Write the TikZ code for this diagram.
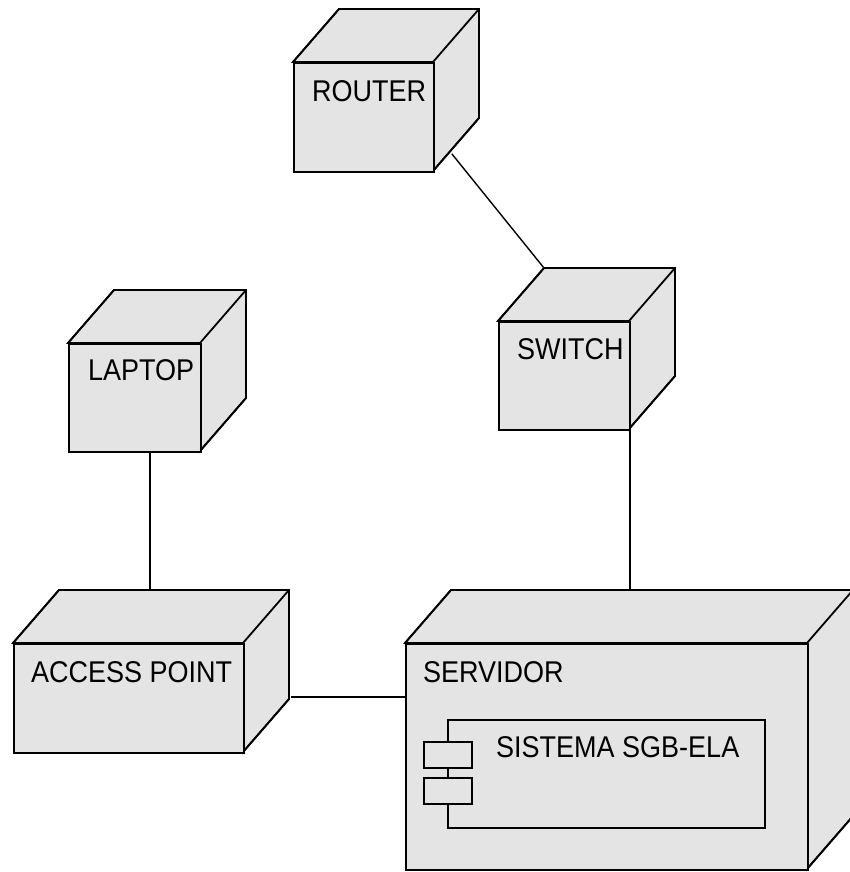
\documentclass[tikz,border=0pt]{standalone}
\usepackage{fontspec}
\setmainfont{Liberation Sans}
\newfontfamily\lblfont[FakeStretch=0.9]{Liberation Sans}
\usetikzlibrary{calc}
\definecolor{boxgray}{HTML}{E4E4E4}
\tikzset{
  face/.style={fill=boxgray, draw=black, line width=1.8pt, line join=miter},
  front/.style={face, rectangle, inner sep=0pt, anchor=north west},
  lbl/.style={anchor=base west, inner sep=0pt, font=\lblfont\fontsize{30}{36}\selectfont},
  link/.style={draw=black, line width=1.4pt},
  part/.style={fill=boxgray, draw=black, line width=1.6pt, inner sep=0pt, anchor=north west}
}
% #1 name, #2 x, #3 y, #4 width, #5 height
\newcommand\devbox[5]{%
  \fill[face] (#2,#3) -- ++(46,-53) -- ++(#4,0) -- ++(0,#5) -- ++(-46,53) -- ++(0,-#5) -- cycle;
  \draw[face, fill=none] (#2,#3) -- ++(46,-53) -- ++(#4,0) -- ++(0,#5) -- ++(-46,53);
  \draw[face, fill=none] (#2+#4,#3) -- ++(46,-53);
  \node[front, minimum width=#4pt, minimum height=#5pt] (#1) at (#2,#3) {};
}
\begin{document}
\begin{tikzpicture}[x=1pt,y=-1pt]
\useasboundingbox (0,0) rectangle (850,872);

\devbox{router}{293}{62}{140}{109}
\devbox{switch}{498}{321}{131}{108}
\devbox{laptop}{68}{343}{132}{108}
\devbox{ap}{13}{643}{230}{109}
\devbox{servidor}{405}{643}{402}{226}

\node[lbl] (routerlbl) at (312,102) {ROUTER};
\node[lbl] (switchlbl) at (517,359) {SWITCH};
\node[lbl] (laptoplbl) at (88,380) {LAPTOP};
\node[lbl] (aplbl) at (31,682) {ACCESS POINT};
\node[lbl] (servidorlbl) at (423,682) {SERVIDOR};

% component
\node[part, minimum width=317pt, minimum height=108pt] (comp) at (447,719) {};
\node[part, minimum width=48pt, minimum height=26pt] (port1) at (423,741) {};
\node[part, minimum width=48pt, minimum height=26pt] (port2) at (423,777) {};
\node[lbl] (complbl) at (496,757) {SISTEMA SGB-ELA};

% connection points
\coordinate (rt) at ($(router.south east)+(17,-19)$);
\coordinate (swtop) at ($(switch.north west)+(46,-53)$);
\coordinate (lapb) at ($(laptop.south west)+(82,0)$);
\coordinate (aptop) at ($(ap.north west)+(46,-53)$);
\coordinate (swb) at ($(switch.south east)+(-1,0)$);
\coordinate (svtop) at ($(servidor.north west)+(46,-53)$);
\coordinate (apside) at ($(ap.north east)+(46,54)$);

\draw[link] (rt) -- (swtop);
\draw[link] (lapb) -- (lapb |- aptop);
\draw[link] (swb) -- (swb |- svtop);
\draw[link] (apside) -- (apside -| servidor.west);
\end{tikzpicture}
\end{document}
